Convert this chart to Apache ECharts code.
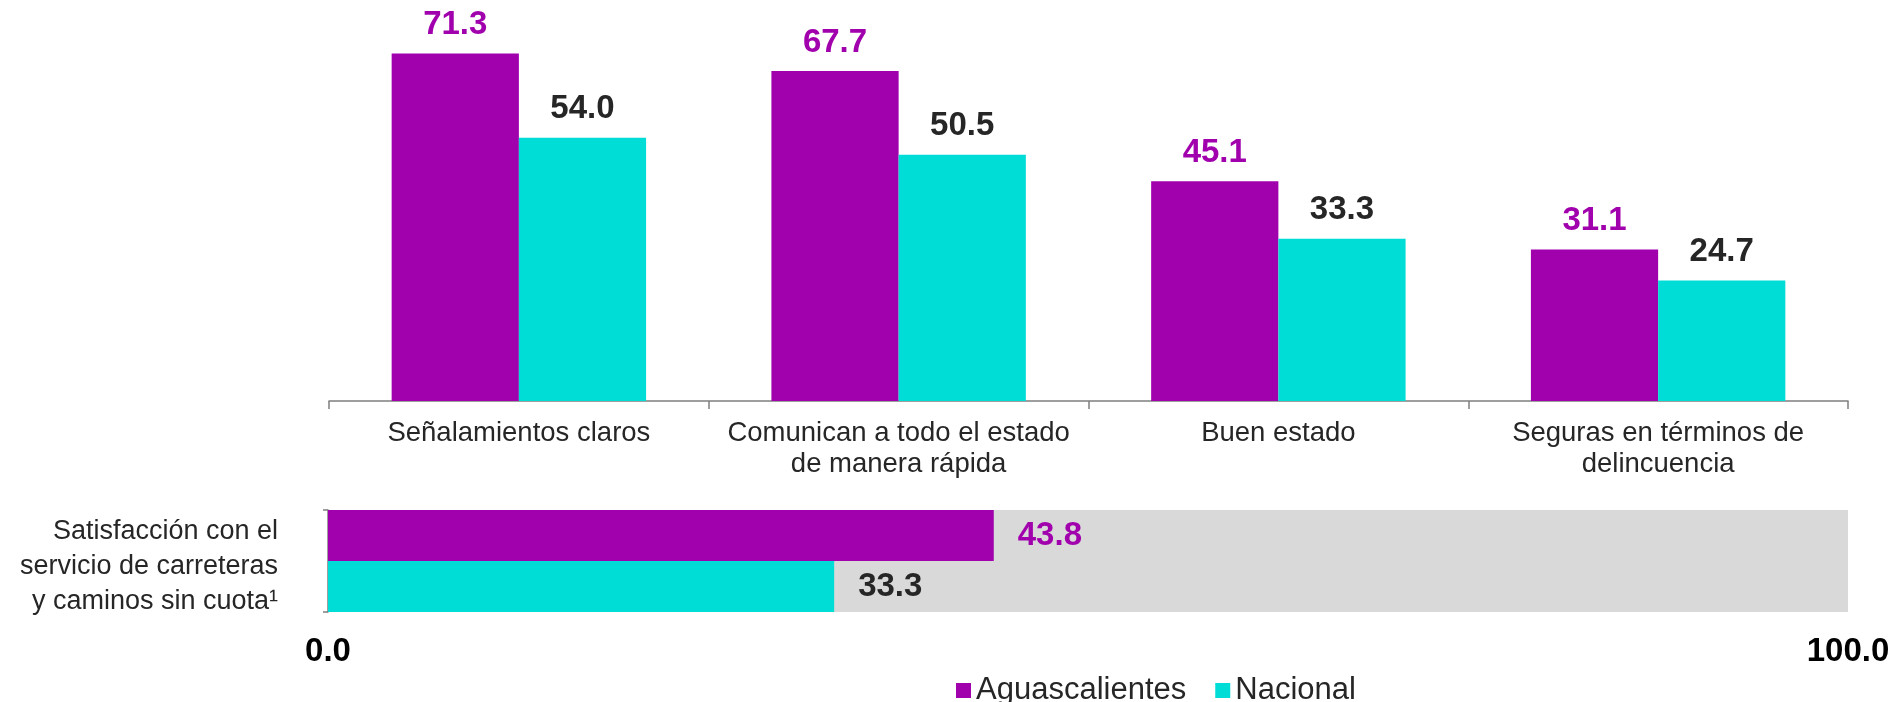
<!DOCTYPE html>
<html>
<head>
<meta charset="utf-8">
<script src="https://cdn.jsdelivr.net/npm/echarts@6/dist/echarts.min.js"></script>
<style>
  html, body { margin: 0; padding: 0; background: #fff; }
  #chart { width: 1904px; height: 702px; }
</style>
</head>
<body>
<div id="chart"></div>
<script>
// data
const categories = [
  'Señalamientos claros',
  'Comunican a todo el estado\nde manera rápida',
  'Buen estado',
  'Seguras en términos de\ndelincuencia'
];
const aguascalientes = [71.3, 67.7, 45.1, 31.1];
const nacional = [54.0, 50.5, 33.3, 24.7];

const satisfCategory = ['Satisfacción con el\nservicio de carreteras\ny caminos sin cuota¹'];
const satisfAgs = [43.8];
const satisfNac = [33.3];

const PURPLE = '#A100AD';
const CYAN = '#00DCD6';
const TEXT = '#262626';
const FONT = "'Liberation Sans', Arial, sans-serif";

const chart = echarts.init(document.getElementById('chart'));
const fmt = p => Number(p.value).toFixed(1);

// small spacer line on top pushes the three text lines a bit lower
const leftLabel = v => '{s| }\n' + v.split('\n').map(s => '{a|' + s + '}').join('\n');

const option = {
  animation: false,
  textStyle: { fontFamily: FONT },
  legend: {
    data: ['Aguascalientes', 'Nacional'],
    left: 951,
    top: 670,
    icon: 'rect',
    itemWidth: 15,
    itemHeight: 15,
    itemGap: 29,
    textStyle: { fontSize: 31, color: TEXT, fontFamily: FONT }
  },
  grid: [
    { left: 329, right: 56, top: 11, bottom: 301 },
    { left: 328, right: 56, top: 510, height: 102 }
  ],
  xAxis: [
    {
      gridIndex: 0,
      type: 'category',
      data: categories,
      axisLine: { lineStyle: { color: '#7f7f7f', width: 1.5 } },
      axisTick: { show: true, length: 8, lineStyle: { color: '#7f7f7f', width: 1.5 } },
      axisLabel: {
        interval: 0, fontSize: 27.5, lineHeight: 31, color: TEXT,
        margin: 17, fontFamily: FONT
      }
    },
    {
      gridIndex: 1,
      type: 'value',
      min: 0,
      max: 100,
      interval: 100,
      axisLine: { show: false },
      axisTick: { show: false },
      splitLine: { show: false },
      axisLabel: {
        formatter: v => v.toFixed(1),
        fontSize: 33, fontWeight: 'bold', color: '#000',
        margin: 23, fontFamily: FONT
      }
    }
  ],
  yAxis: [
    {
      gridIndex: 0,
      type: 'value',
      min: 0,
      max: 80,
      show: false,
      splitLine: { show: false }
    },
    {
      gridIndex: 1,
      type: 'category',
      data: satisfCategory,
      inverse: true,
      axisLine: { show: true, lineStyle: { color: '#7f7f7f', width: 1.5 } },
      axisTick: { show: true, length: 5, lineStyle: { color: '#7f7f7f', width: 1.5 } },
      axisLabel: {
        formatter: leftLabel,
        align: 'right',
        margin: 50,
        rich: {
          s: { fontSize: 2, lineHeight: 12 },
          a: { fontSize: 27, lineHeight: 35, color: TEXT, align: 'right', fontFamily: FONT }
        }
      }
    }
  ],
  series: [
    {
      name: 'Aguascalientes',
      type: 'bar',
      xAxisIndex: 0, yAxisIndex: 0,
      data: aguascalientes,
      barGap: '0%',
      barCategoryGap: '33%',
      itemStyle: { color: PURPLE },
      label: {
        show: true, position: 'top', distance: 12, formatter: fmt,
        fontSize: 33, fontWeight: 'bold', color: PURPLE, fontFamily: FONT
      }
    },
    {
      name: 'Nacional',
      type: 'bar',
      xAxisIndex: 0, yAxisIndex: 0,
      data: nacional,
      barGap: '0%',
      barCategoryGap: '33%',
      itemStyle: { color: CYAN },
      label: {
        show: true, position: 'top', distance: 12, formatter: fmt,
        fontSize: 33, fontWeight: 'bold', color: TEXT, fontFamily: FONT
      }
    },
    {
      name: 'Aguascalientes',
      type: 'bar',
      xAxisIndex: 1, yAxisIndex: 1,
      data: satisfAgs,
      barGap: '0%',
      barCategoryGap: '0%',
      showBackground: true,
      backgroundStyle: { color: '#D9D9D9' },
      itemStyle: { color: PURPLE },
      label: {
        show: true, position: 'right', distance: 24, formatter: fmt,
        fontSize: 33, fontWeight: 'bold', color: PURPLE, fontFamily: FONT
      }
    },
    {
      name: 'Nacional',
      type: 'bar',
      xAxisIndex: 1, yAxisIndex: 1,
      data: satisfNac,
      barGap: '0%',
      barCategoryGap: '0%',
      showBackground: true,
      backgroundStyle: { color: '#D9D9D9' },
      itemStyle: { color: CYAN },
      label: {
        show: true, position: 'right', distance: 24, formatter: fmt,
        fontSize: 33, fontWeight: 'bold', color: TEXT, fontFamily: FONT
      }
    }
  ]
};

chart.setOption(option);
</script>
</body>
</html>
